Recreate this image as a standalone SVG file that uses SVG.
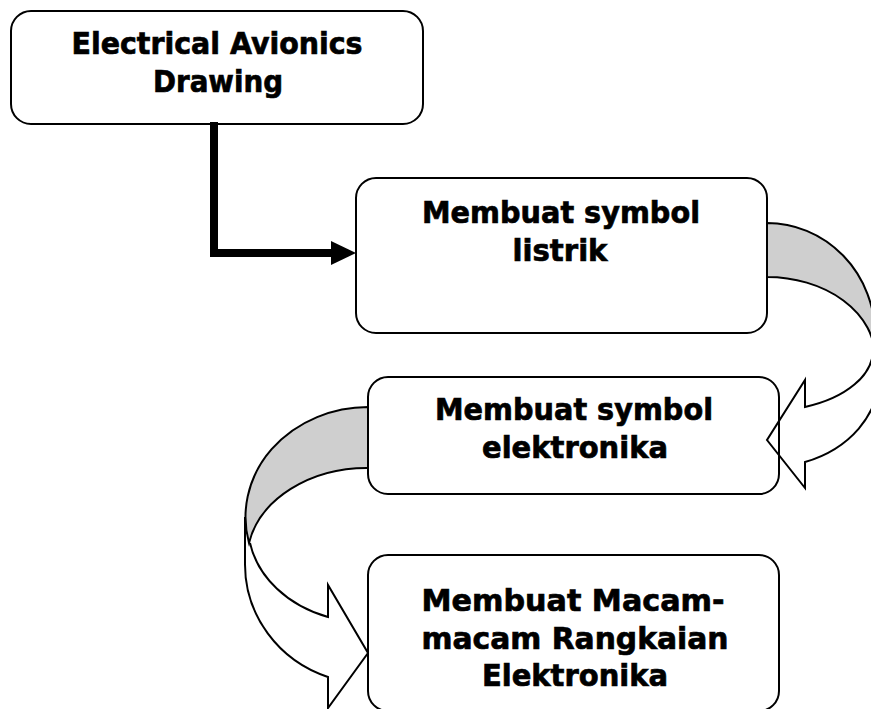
<svg xmlns="http://www.w3.org/2000/svg" width="871" height="709" viewBox="0 0 871 709">
<style>
.box{fill:#ffffff;stroke:#000;stroke-width:2}
.lbl{font-family:"DejaVu Sans","Liberation Sans",sans-serif;font-weight:bold;font-size:30px;fill:#000;stroke:#000;stroke-width:0.7;text-anchor:middle}
.back{fill:#cfcfcf;stroke:#000;stroke-width:2;stroke-linejoin:miter}
.front{fill:none;stroke:#000;stroke-width:2;stroke-linejoin:miter}
</style>
<defs>
<marker id="ah" markerUnits="userSpaceOnUse" markerWidth="26" markerHeight="26" refX="0" refY="12" orient="auto">
<path d="M0,0 L25,12 L0,24 Z" fill="#000"/>
</marker>
</defs>
<rect width="871" height="709" fill="#fff"/>
<g id="node1">
<rect class="box" x="11" y="11" width="412" height="113" rx="20"/>
<text class="lbl" x="217" y="54" textLength="291" lengthAdjust="spacingAndGlyphs">Electrical Avionics</text>
<text class="lbl" x="218" y="92" textLength="130" lengthAdjust="spacingAndGlyphs">Drawing</text>
</g>
<g id="node2">
<rect class="box" x="356" y="178" width="411" height="155" rx="20"/>
<text class="lbl" x="561" y="223" textLength="278" lengthAdjust="spacingAndGlyphs">Membuat symbol</text>
<text class="lbl" x="560" y="261" textLength="95" lengthAdjust="spacingAndGlyphs">listrik</text>
</g>
<g id="node3">
<rect class="box" x="368" y="377" width="411" height="117" rx="20"/>
<text class="lbl" x="574" y="420" textLength="278" lengthAdjust="spacingAndGlyphs">Membuat symbol</text>
<text class="lbl" x="575" y="458" textLength="186" lengthAdjust="spacingAndGlyphs">elektronika</text>
</g>
<g id="node4">
<rect class="box" x="368" y="555" width="411" height="156" rx="20"/>
<text class="lbl" x="573" y="611" textLength="303" lengthAdjust="spacingAndGlyphs">Membuat Macam-</text>
<text class="lbl" x="575" y="649" textLength="307" lengthAdjust="spacingAndGlyphs">macam Rangkaian</text>
<text class="lbl" x="575" y="686" textLength="186" lengthAdjust="spacingAndGlyphs">Elektronika</text>
</g>
<g id="connectors">
<path d="M214,122 V253 H331" fill="none" stroke="#000" stroke-width="8" stroke-linejoin="miter" marker-end="url(#ah)"/>
<g id="curved-right">
<path class="back" d="M767,223 A108,112 0 0 1 875,335 L875,357 A108,80 0 0 0 767,277 Z"/>
<path class="front" d="M873,350 A106,61 0 0 1 805,407 L805,380 L767,440 L805,488 L805,462 A112,91 0 0 0 879,376 Z"/>
</g>
<g id="curved-left">
<path class="front" d="M250,543 A120,97 0 0 0 328,617 L328,585 L368,653 L328,708 L328,677 A123,119 0 0 1 245,564 L245,517"/>
<path class="back" d="M368,407 A123,110 0 0 0 249,543 A120,92 0 0 1 368,468 Z"/>
</g>
</g>
</svg>
